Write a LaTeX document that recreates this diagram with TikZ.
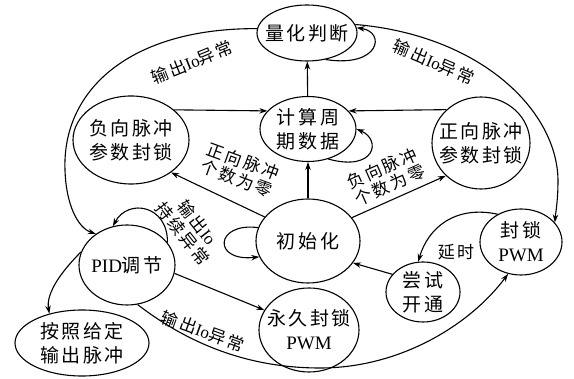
\documentclass[tikz,border=0pt]{standalone}
\usepackage{fontspec}
\setmainfont{Liberation Serif}
\newfontfamily\cjkf[LetterSpace=14]{Noto Sans CJK SC}
\newcommand\zh[1]{{\cjkf #1}}
\usetikzlibrary{shapes.geometric,arrows.meta}
\tikzset{
  st/.style={ellipse, draw, line width=1.1pt, inner sep=0pt},
  txt/.style={font=\fontsize{19}{24}\selectfont, align=center},
  arr/.style={line width=1.1pt, -{Stealth[length=8pt,width=5.5pt]}},
  lab/.style={font=\fontsize{17}{18.5}\selectfont, align=center, inner sep=0pt},
}
\begin{document}
\begin{tikzpicture}[x=1pt,y=-1pt]
\useasboundingbox (0,0) rectangle (574,379);
% states
\node[st, minimum width=100pt, minimum height=56pt, label={[txt]center:\zh{量化判断}}] (Q) at (307,33) {};
\node[st, minimum width=96pt, minimum height=65pt, label={[txt]center:\zh{计算周}\\\zh{期数据}}] (C) at (308,129) {};
\node[st, minimum width=116pt, minimum height=88pt, label={[txt]center:\zh{负向脉冲}\\\zh{参数封锁}}] (N) at (131,140) {};
\node[st, minimum width=98pt, minimum height=92pt, label={[txt]center:\zh{正向脉冲}\\\zh{参数封锁}}] (P) at (481,143) {};
\node[st, minimum width=104pt, minimum height=84pt, label={[txt]center:\zh{初始化}}] (I) at (308,241) {};
\node[st, minimum width=96pt, minimum height=80pt, label={[txt]center:PID\zh{调节}}] (D) at (127,265) {};
\node[st, minimum width=134pt, minimum height=66pt, label={[txt]center:\zh{按照给定}\\\zh{输出脉冲}}] (A) at (82,343) {};
\node[st, minimum width=100pt, minimum height=84pt, label={[txt]center:\zh{永久封锁}\\PWM}] (Y) at (309,330) {};
\node[st, minimum width=74pt, minimum height=60pt, label={[txt]center:\zh{尝试}\\\zh{开通}}] (T) at (423,292) {};
\node[st, minimum width=82pt, minimum height=66pt, label={[txt]center:\zh{封锁}\\PWM}] (F) at (521,242) {};
% straight connectors
\draw[arr] (C) -- (Q);
\draw[arr] (I) -- (C);
\draw[arr] (N.35) -- (C.156);
\draw[arr] (P.136) -- (C.24);
\draw[arr] (I.151) -- (N.-39);
\draw[arr] (I.28) -- (P.-137);
\draw[arr] (D.-10) -- (Y.156);
\draw[arr] (T.150) -- (I.-26);
% self loops
\draw[arr] (Q.-55) .. controls (380,68) and (386,32) .. (Q.6);
\draw[arr] (C.-56) .. controls (375,172) and (382,140) .. (C.0);
\draw[arr] (I.165) .. controls (215,222) and (212,262) .. (I.198);
\draw[arr] (D.29) .. controls (168,205) and (128,198) .. (D.110);
% curved connectors
\draw[arr] (Q.175) .. controls (130,28) and (62,90) .. (65,170) .. controls (66,205) and (78,228) .. (D.135);
\draw[arr] (Q.10) .. controls (480,35) and (557,110) .. (558,180) .. controls (558,200) and (556,210) .. (F.30);
\draw[arr] (D.164) .. controls (58,275) and (46,295) .. (A.138);
\draw[arr] (D.-75) .. controls (190,345) and (250,368) .. (320,368) .. controls (400,368) and (470,325) .. (F.-112);
\draw[arr] (F.130) .. controls (455,205) and (428,228) .. (T.99);
% labels
\node[lab, rotate=22] (l1) at (192,62) {\zh{输出}Io\zh{异常}};
\node[lab, rotate=-23] (l2) at (434,62) {\zh{输出}Io\zh{异常}};
\node[lab, rotate=-20] (l3) at (240,170) {\zh{正向脉冲}\\\zh{个数为零}};
\node[lab, rotate=24] (l4) at (386,177) {\zh{负向脉冲}\\\zh{个数为零}};
\node[lab, rotate=-52] (l5) at (190,228) {\zh{输出}Io\\\zh{持续异常}};
\node[lab, rotate=-20] (l6) at (203,331) {\zh{输出}Io\zh{异常}};
\node[lab] (l7) at (456,252) {\zh{延时}};
\end{tikzpicture}
\end{document}
